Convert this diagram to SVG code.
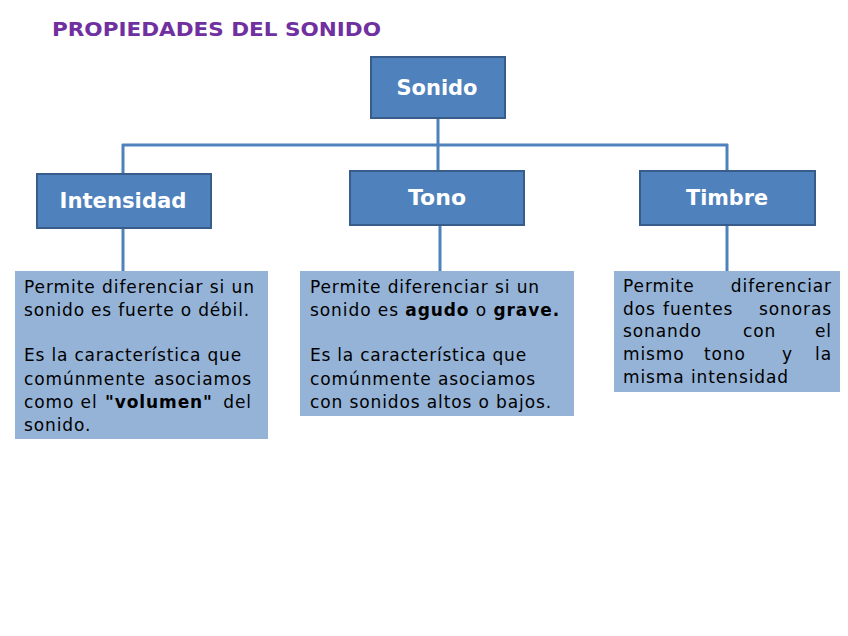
<svg xmlns="http://www.w3.org/2000/svg" width="848" height="636" viewBox="0 0 848 636">
<style>
.title{font-family:"DejaVu Sans",Verdana,sans-serif;font-weight:bold;font-size:20px;fill:#7030A0}
.node rect{fill:#4F81BD;stroke:#385D8A;stroke-width:2}
.node text{font-family:"DejaVu Sans",Verdana,sans-serif;font-weight:bold;font-size:21px;fill:#fff;text-anchor:middle}
.desc rect{fill:#95B3D7}
.desc text{font-family:"DejaVu Sans",Verdana,sans-serif;font-size:17px;fill:#000;letter-spacing:0.9px}
.b{font-weight:bold}
#connectors line{stroke:#4F81BD;stroke-width:3}
</style>
<rect width="848" height="636" fill="#fff"/>
<text class="title" x="52" y="36" textLength="329" lengthAdjust="spacingAndGlyphs">PROPIEDADES DEL SONIDO</text>
<g id="connectors">
<line x1="438" y1="118" x2="438" y2="145"/>
<line x1="122" y1="145" x2="728" y2="145"/>
<line x1="123" y1="144" x2="123" y2="174"/>
<line x1="438" y1="144" x2="438" y2="171"/>
<line x1="727" y1="144" x2="727" y2="171"/>
<line x1="123" y1="228" x2="123" y2="271"/>
<line x1="440" y1="225" x2="440" y2="271"/>
<line x1="727" y1="225" x2="727" y2="271"/>
</g>
<g id="sonido" class="node"><rect x="371" y="57" width="134" height="61"/><text x="437" y="95" textLength="81" lengthAdjust="spacingAndGlyphs">Sonido</text></g>
<g id="intensidad" class="node"><rect x="37" y="174" width="174" height="54"/><text x="123" y="208" textLength="127" lengthAdjust="spacingAndGlyphs">Intensidad</text></g>
<g id="tono" class="node"><rect x="350" y="171" width="174" height="54"/><text x="437" y="205" textLength="58" lengthAdjust="spacingAndGlyphs">Tono</text></g>
<g id="timbre" class="node"><rect x="640" y="171" width="175" height="54"/><text x="727" y="205" textLength="82" lengthAdjust="spacingAndGlyphs">Timbre</text></g>
<g id="desc-intensidad" class="desc"><rect x="15" y="271" width="253" height="168"/>
<text x="24" y="293" textLength="231">Permite diferenciar si un</text>
<text x="24" y="316" textLength="226">sonido es fuerte o débil.</text>
<text x="24" y="361" textLength="218">Es la característica que</text>
<text y="385"><tspan x="24">comúnmente</tspan><tspan x="252" text-anchor="end">asociamos</tspan></text>
<text y="408"><tspan x="24">como el</tspan><tspan x="105" class="b">"volumen"</tspan><tspan x="252" text-anchor="end">del</tspan></text>
<text x="24" y="431">sonido.</text>
</g>
<g id="desc-tono" class="desc"><rect x="300" y="271" width="274" height="145"/>
<text x="310" y="293" textLength="230">Permite diferenciar si un</text>
<text x="310" y="316" textLength="250">sonido es <tspan class="b">agudo</tspan> o <tspan class="b">grave.</tspan></text>
<text x="310" y="361" textLength="217">Es la característica que</text>
<text x="310" y="385" textLength="226">comúnmente asociamos</text>
<text x="310" y="408" textLength="242">con sonidos altos o bajos.</text>
</g>
<g id="desc-timbre" class="desc"><rect x="614" y="271" width="226" height="121"/>
<text y="292"><tspan x="623">Permite</tspan><tspan x="832" text-anchor="end">diferenciar</tspan></text>
<text y="315"><tspan x="623">dos</tspan><tspan x="663">fuentes</tspan><tspan x="832" text-anchor="end">sonoras</tspan></text>
<text y="337"><tspan x="623">sonando</tspan><tspan x="743">con</tspan><tspan x="832" text-anchor="end">el</tspan></text>
<text y="360"><tspan x="623">mismo</tspan><tspan x="704">tono</tspan><tspan x="782">y</tspan><tspan x="832" text-anchor="end">la</tspan></text>
<text x="623" y="383" textLength="166">misma intensidad</text>
</g>
</svg>
